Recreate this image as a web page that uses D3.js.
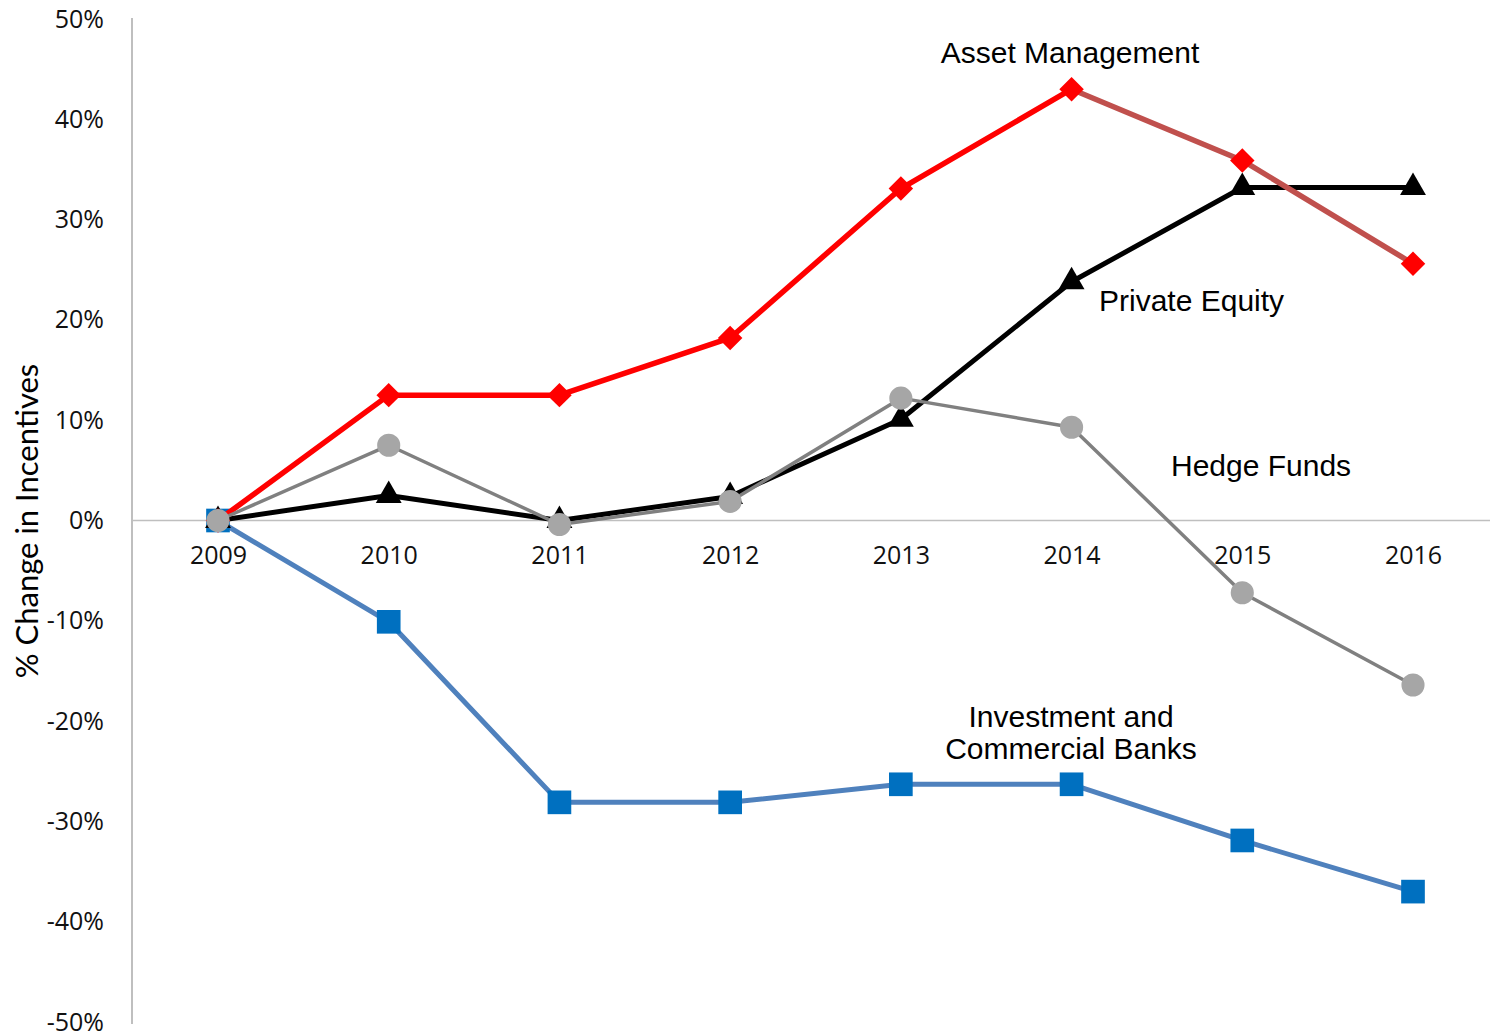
<!DOCTYPE html>
<html lang="en">
<head>
  <meta charset="utf-8">
  <title>% Change in Incentives</title>
  <script src="https://d3js.org/d3.v7.min.js"></script>
  <style>
    body { margin: 0; background: #fff; }
    .tick text { font-family: "Open Sans", sans-serif; font-size: 25px; fill: #111; }
    .note { font-family: "Liberation Sans", Arial, sans-serif; font-size: 30px; fill: #000; }
  </style>
</head>
<body>
<script>
  // data
  var years = ["2009", "2010", "2011", "2012", "2013", "2014", "2015", "2016"];
  var banks = [0, -10.1, -28.1, -28.1, -26.3, -26.3, -31.9, -37.0];
  var privateEquity = [0, 2.5, 0, 2.4, 10.1, 23.8, 33.2, 33.2];
  var assetMgmt = [0, 12.5, 12.5, 18.2, 33.1, 43.0, 35.9, 25.6];
  var hedgeFunds = [0, 7.5, -0.4, 1.9, 12.2, 9.3, -7.2, -16.4];
  var yTicks = [-50, -40, -30, -20, -10, 0, 10, 20, 30, 40, 50];

  var width = 1491,
      height = 1036;

  var svg = d3.select("body").append("svg")
      .attr("width", width)
      .attr("height", height);

  var x = d3.scalePoint()
      .domain(years)
      .range([218, 1413]);

  var y = d3.scaleLinear()
      .domain([-50, 50])
      .range([1022, 19]);

  // y axis (line + labels, no tick marks)
  var yAxis = svg.append("g")
      .attr("transform", "translate(132,0)")
      .call(d3.axisLeft(y).tickValues(yTicks).tickSize(0).tickPadding(28)
        .tickFormat(function(d) { return d + "%"; }));
  yAxis.select(".domain").attr("stroke", "#bfbfbf").attr("stroke-width", 2)
      .attr("d", "M0,18V1024");

  // zero line with year labels below
  var xAxis = svg.append("g")
      .attr("transform", "translate(0," + y(0) + ")")
      .call(d3.axisBottom(x).tickSize(0).tickPadding(26));
  xAxis.select(".domain").attr("stroke", "#bfbfbf").attr("stroke-width", 1.5)
      .attr("d", "M132,0H1490");

  svg.append("text")
      .attr("transform", "translate(38,521) rotate(-90)")
      .attr("text-anchor", "middle")
      .style("font-family", "Lato, 'Open Sans', sans-serif")
      .style("font-size", "31px")
      .text("% Change in Incentives");

  function drawLine(values, segments, width) {
    segments.forEach(function(s) {
      var pts = values.map(function(v, i) { return [i, v]; }).slice(s.from, s.to + 1);
      svg.append("path")
        .datum(pts)
        .attr("fill", "none")
        .attr("stroke", s.color)
        .attr("stroke-width", width)
        .attr("stroke-linejoin", "round")
        .attr("d", d3.line()
          .x(function(d) { return x(years[d[0]]); })
          .y(function(d) { return y(d[1]); }));
    });
  }

  function drawMarkers(values, shape, size, color, rotate) {
    svg.append("g").selectAll("path")
      .data(values)
      .enter().append("path")
      .attr("transform", function(d, i) {
        return "translate(" + x(years[i]) + "," + y(d) + ")" + (rotate ? " rotate(" + rotate + ")" : "");
      })
      .attr("d", d3.symbol().type(shape).size(size))
      .attr("fill", color);
  }

  // series in drawing order
  drawLine(banks, [{from: 0, to: 7, color: "#4f81bd"}], 5);
  drawMarkers(banks, d3.symbolSquare, 560, "#0070c0");

  drawLine(privateEquity, [{from: 0, to: 7, color: "#000"}], 5);
  drawMarkers(privateEquity, d3.symbolTriangle, 290, "#000");

  drawLine(assetMgmt, [{from: 0, to: 5, color: "#ff0000"}, {from: 5, to: 7, color: "#c0504d"}], 5.5);
  drawMarkers(assetMgmt, d3.symbolSquare, 300, "#ff0000", 45);

  drawLine(hedgeFunds, [{from: 0, to: 7, color: "#808080"}], 3.5);
  drawMarkers(hedgeFunds, d3.symbolCircle, 420, "#a6a6a6");

  // series labels
  var notes = [
    {text: "Asset Management", x: 1070, y: 63, anchor: "middle"},
    {text: "Private Equity", x: 1099, y: 311, anchor: "start"},
    {text: "Hedge Funds", x: 1171, y: 476, anchor: "start"},
    {text: "Investment and", x: 1071, y: 727, anchor: "middle"},
    {text: "Commercial Banks", x: 1071, y: 759, anchor: "middle"}
  ];
  svg.selectAll(".note")
    .data(notes)
    .enter().append("text")
    .attr("class", "note")
    .attr("x", function(d) { return d.x; })
    .attr("y", function(d) { return d.y; })
    .attr("text-anchor", function(d) { return d.anchor; })
    .text(function(d) { return d.text; });
</script>
</body>
</html>
